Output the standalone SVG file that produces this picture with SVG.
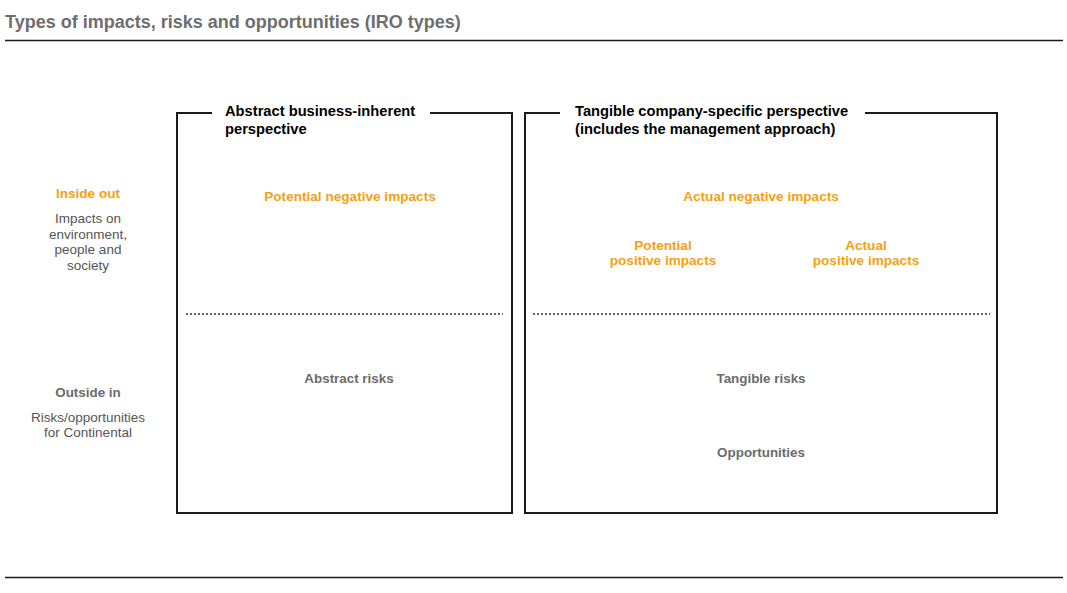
<svg xmlns="http://www.w3.org/2000/svg" width="1067" height="593" viewBox="0 0 1067 593">
<style>
text{font-family:"Liberation Sans","Open Sans",Arial,sans-serif}
.title{font-size:18px;font-weight:bold;fill:#6e6e6e}
.head{font-size:14.7px;font-weight:bold;fill:#000}
.or{font-size:13.6px;font-weight:bold;fill:#f5a10f}
.gb{font-size:13.4px;font-weight:bold;fill:#6b6b6b}
.gr{font-size:13.5px;fill:#555}
.box{fill:none;stroke:#1a1a1a;stroke-width:2}
.rule{stroke:#1a1a1a;stroke-width:1.6}
.dot{stroke:#333;stroke-width:1.6;stroke-dasharray:2 2}
</style>
<rect width="1067" height="593" fill="#fff"/>
<g id="title">
<text class="title" x="5" y="28">Types of impacts, risks and opportunities (IRO types)</text>
<line class="rule" x1="5" y1="40.5" x2="1063" y2="40.5"/>
<line class="rule" x1="5" y1="577.5" x2="1063" y2="577.5"/>
</g>
<g id="row-labels" text-anchor="middle">
<text class="or" x="88" y="198">Inside out</text>
<text class="gr" x="88" y="223">Impacts on</text>
<text class="gr" x="88" y="239">environment,</text>
<text class="gr" x="88" y="254">people and</text>
<text class="gr" x="88" y="270">society</text>
<text class="gb" x="88" y="397">Outside in</text>
<text class="gr" x="88" y="422">Risks/opportunities</text>
<text class="gr" x="88" y="437">for Continental</text>
</g>
<g id="abstract-box">
<path class="box" d="M212,113 H177 V513 H512 V113 H430"/>
<text class="head" x="225" y="116">Abstract business-inherent</text>
<text class="head" x="225" y="134">perspective</text>
<line class="dot" x1="186" y1="314" x2="503" y2="314"/>
<g text-anchor="middle">
<text class="or" x="350" y="201">Potential negative impacts</text>
<text class="gb" x="349" y="383">Abstract risks</text>
</g>
</g>
<g id="tangible-box">
<path class="box" d="M560,113 H525 V513 H997 V113 H865"/>
<text class="head" x="575" y="116">Tangible company-specific perspective</text>
<text class="head" x="575" y="134">(includes the management approach)</text>
<line class="dot" x1="533" y1="314" x2="990" y2="314"/>
<g text-anchor="middle">
<text class="or" x="761" y="201">Actual negative impacts</text>
<text class="or" x="663" y="250">Potential</text>
<text class="or" x="663" y="265">positive impacts</text>
<text class="or" x="866" y="250">Actual</text>
<text class="or" x="866" y="265">positive impacts</text>
<text class="gb" x="761" y="383">Tangible risks</text>
<text class="gb" x="761" y="457">Opportunities</text>
</g>
</g>
<g id="connectors"/>
</svg>
